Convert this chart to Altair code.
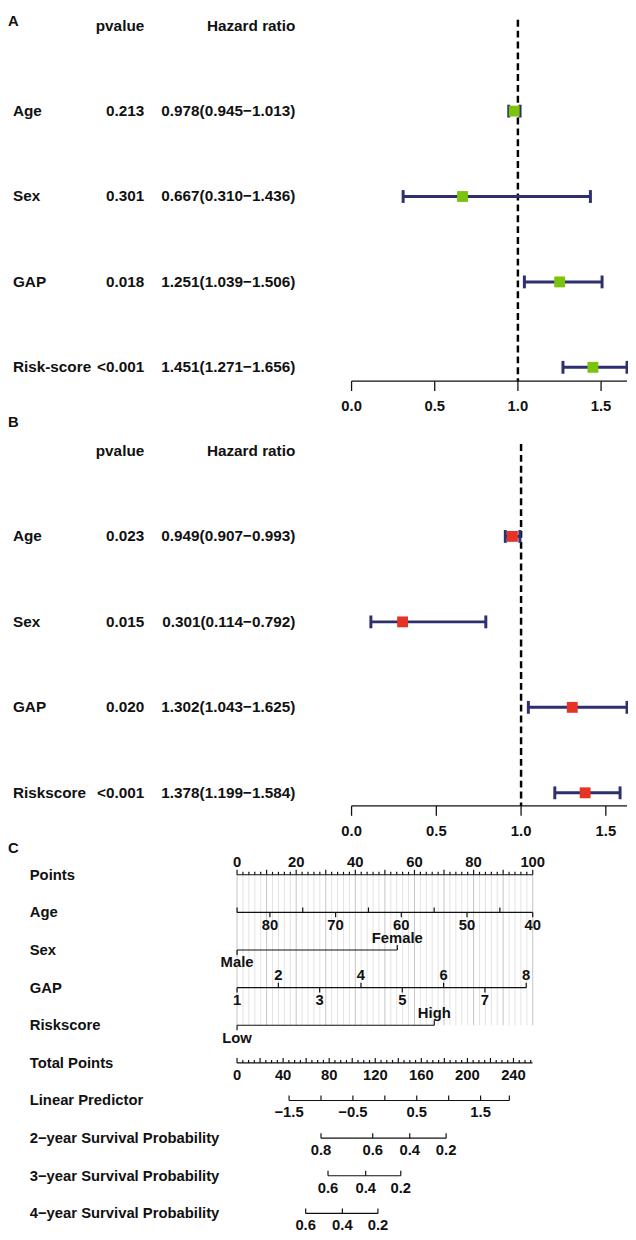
import altair as alt
import pandas as pd

FONT = "Liberation Sans"
NAVY = "#2E2F6E"
GREEN = "#7CC30E"
RED = "#E63323"
INK = "#111111"
W, H = 628, 1232

# ---------------- data: forest plot A ----------------
a_vars = ["Age", "Sex", "GAP", "Risk-score"]
a_pval = ["0.213", "0.301", "0.018", "<0.001"]
a_hr = [0.978, 0.667, 1.251, 1.451]
a_low = [0.945, 0.310, 1.039, 1.271]
a_high = [1.013, 1.436, 1.506, 1.656]

# ---------------- data: forest plot B ----------------
b_vars = ["Age", "Sex", "GAP", "Riskscore"]
b_pval = ["0.023", "0.015", "0.020", "<0.001"]
b_hr = [0.949, 0.301, 1.302, 1.378]
b_low = [0.907, 0.114, 1.043, 1.199]
b_high = [0.993, 0.792, 1.625, 1.584]

forest_ticks = [0.0, 0.5, 1.0, 1.5]

# ---------------- data: nomogram C ----------------
nomo_rows = ["Points", "Age", "Sex", "GAP", "Riskscore", "Total Points",
             "Linear Predictor", "2\u2212year Survival Probability",
             "3\u2212year Survival Probability", "4\u2212year Survival Probability"]
points_labels = [0, 20, 40, 60, 80, 100]
age_range = [85, 40]
age_labels = [80, 70, 60, 50, 40]
age_unlabeled = [85, 75, 65, 55, 45]
sex_levels = ["Male", "Female"]
sex_points = [0, 54.2]
gap_max_points = 97.8
gap_above = [2, 4, 6, 8]
gap_below = [1, 3, 5, 7]
risk_levels = ["Low", "High"]
risk_points = [0, 66.7]
total_labels = [0, 40, 80, 120, 160, 200, 240]
total_max = 256.5
lp_range = [-1.5, 1.95]
lp_labels = [-1.5, -0.5, 0.5, 1.5]
surv2_labels = ["0.8", "0.6", "0.4", "0.2"]
surv2_lp = [-1.0, -0.19, 0.39, 0.96]
surv3_labels = ["0.6", "0.4", "0.2"]
surv3_lp = [-0.89, -0.30, 0.25]
surv4_labels = ["0.6", "0.4", "0.2"]
surv4_lp = [-1.24, -0.665, -0.108]


def lin(domain, rng):
    return alt.Scale(domain=domain, range=rng, nice=False, zero=False)


def tstyle(size=15.5, align="left", dy=0):
    return dict(font=FONT, fontWeight="bold", fontSize=size, baseline="middle",
                align=align, dy=dy, color=INK)


def forest(names, pvals, hr, lo, hi, color, rows_rng, axis_y, dash_top, letter, letter_y):
    xs = lin([0, max(hi)], [348, 627])
    ys = lin([0, 4], rows_rng)
    Y = alt.Y("row:Q", scale=ys, axis=None)
    table = pd.DataFrame({
        "row": [0, 1, 2, 3, 4],
        "name": [""] + names,
        "p": ["pvalue"] + pvals,
        "hrtxt": ["Hazard ratio"] + [f"{h:.3f}({l:.3f}\u2212{u:.3f})" for h, l, u in zip(hr, lo, hi)],
    })
    est = pd.DataFrame({"row": [1, 2, 3, 4], "hr": hr, "lo": lo, "hi": hi})
    caps = pd.DataFrame({"row": [1, 2, 3, 4] * 2, "v": lo + hi})
    L = []
    L.append(alt.Chart(table).mark_text(**tstyle()).encode(x=alt.value(5), y=Y, text="name:N"))
    L.append(alt.Chart(table).mark_text(**tstyle(align="right")).encode(x=alt.value(138), y=Y, text="p:N"))
    L.append(alt.Chart(table).mark_text(**tstyle(align="right")).encode(x=alt.value(291), y=Y, text="hrtxt:N"))
    ref = pd.DataFrame({"v": [1.0]})
    L.append(alt.Chart(ref).mark_rule(color="black", strokeWidth=2.5, strokeDash=[7, 4]).encode(
        x=alt.X("v:Q", scale=xs, axis=None), y=alt.value(dash_top), y2=alt.value(axis_y)))
    L.append(alt.Chart(est).mark_rule(color=NAVY, strokeWidth=3).encode(
        x=alt.X("lo:Q", scale=xs, axis=None), x2="hi", y=Y))
    L.append(alt.Chart(caps).mark_tick(orient="vertical", color=NAVY, size=13, thickness=3, opacity=1).encode(
        x=alt.X("v:Q", scale=xs, axis=None), y=Y))
    L.append(alt.Chart(est).mark_square(size=121, color=color, opacity=1).encode(
        x=alt.X("hr:Q", scale=xs, axis=None), y=Y))
    dom = pd.DataFrame({"a": [0.0], "b": [max(hi)]})
    L.append(alt.Chart(dom).mark_rule(color=INK, strokeWidth=1.3).encode(
        x=alt.X("a:Q", scale=xs, axis=None), x2="b", y=alt.value(axis_y)))
    tk = pd.DataFrame({"t": forest_ticks, "lab": [f"{t:.1f}" for t in forest_ticks]})
    L.append(alt.Chart(tk).mark_rule(color=INK, strokeWidth=1.3).encode(
        x=alt.X("t:Q", scale=xs, axis=None), y=alt.value(axis_y), y2=alt.value(axis_y + 10)))
    L.append(alt.Chart(tk).mark_text(**tstyle(15, "center")).encode(
        x=alt.X("t:Q", scale=xs, axis=None), y=alt.value(axis_y + 25), text="lab:N"))
    L.append(alt.Chart(pd.DataFrame({"l": [letter]})).mark_text(**tstyle(15)).encode(
        x=alt.value(0), y=alt.value(letter_y), text="l:N"))
    return L


layers = []
layers += forest(a_vars, a_pval, a_hr, a_low, a_high, GREEN, [10, 356], 370, 4, "A", 5)
layers += forest(b_vars, b_pval, b_hr, b_low, b_high, RED, [440.7, 787], 800.3, 433.7, "B", 411)

# ---------------- nomogram ----------------
ny = lin([0, 9], [870, 1213])
NY = alt.Y("row:Q", scale=ny, axis=None)
PX0, PX1 = 232, 531.5


def pxp(p):
    return PX0 + (PX1 - PX0) * p / 100


pts_s = lin([0, 100], [PX0, PX1])
age_s = lin(age_range, [PX0, PX1])
gap_s = lin([1, 8], [PX0, pxp(gap_max_points)])
tot_s = lin([0, 240], [PX0, 512])
lp_s = lin([-1.5, 1.5], [284.7, 478.7])


def hline(row, a, b, xs):
    df = pd.DataFrame({"row": [row], "a": [a], "b": [b]})
    return alt.Chart(df).mark_rule(color=INK, strokeWidth=1.2).encode(
        x=alt.X("a:Q", scale=xs, axis=None), x2="b", y=NY)


def ticks(row, vals, length, xs, width=1.2):
    df = pd.DataFrame({"row": [row] * len(vals), "v": vals})
    return alt.Chart(df).mark_rule(color=INK, strokeWidth=width, y2Offset=length).encode(
        x=alt.X("v:Q", scale=xs, axis=None), y=NY, y2="row")


def labels(row, vals, texts, dy, xs):
    df = pd.DataFrame({"row": [row] * len(vals), "v": vals, "t": texts})
    return alt.Chart(df).mark_text(**tstyle(15, "center", dy)).encode(
        x=alt.X("v:Q", scale=xs, axis=None), y=NY, text="t:N")


# grid lines
grid_major = list(range(0, 101, 10))
grid_minor = [v for v in range(0, 101, 2) if v % 10 != 0]
gdf_major = pd.DataFrame({"v": grid_major, "r0": 0, "r4": 4})
gdf_minor = pd.DataFrame({"v": grid_minor, "r0": 0, "r4": 4})
layers.append(alt.Chart(gdf_minor).mark_rule(color="#E3E3E3", strokeWidth=1).encode(
    x=alt.X("v:Q", scale=pts_s, axis=None), y=alt.Y("r0:Q", scale=ny, axis=None), y2="r4"))
layers.append(alt.Chart(gdf_major).mark_rule(color="#C4C4C4", strokeWidth=1).encode(
    x=alt.X("v:Q", scale=pts_s, axis=None), y=alt.Y("r0:Q", scale=ny, axis=None), y2="r4"))

# row labels
rl = pd.DataFrame({"row": list(range(10)), "name": nomo_rows})
layers.append(alt.Chart(rl).mark_text(**tstyle(15)).encode(x=alt.value(22), y=NY, text="name:N"))
layers.append(alt.Chart(pd.DataFrame({"l": ["C"]})).mark_text(**tstyle(15)).encode(
    x=alt.value(0), y=alt.value(842.7), text="l:N"))

# Points
layers.append(hline(0, 0, 100, pts_s))
layers.append(ticks(0, [v for v in range(0, 101, 2) if v % 10 != 0], -3, pts_s))
layers.append(ticks(0, list(range(0, 101, 10)), -5, pts_s))
layers.append(labels(0, points_labels, [str(v) for v in points_labels], -13, pts_s))

# Age
layers.append(hline(1, age_range[0], age_range[1], age_s))
layers.append(ticks(1, age_unlabeled, -5, age_s))
layers.append(ticks(1, age_labels, 5, age_s))
layers.append(labels(1, age_labels, [str(v) for v in age_labels], 12.5, age_s))

# Sex
layers.append(hline(2, sex_points[0], sex_points[1], pts_s))
layers.append(ticks(2, [sex_points[0]], 5, pts_s))
layers.append(ticks(2, [sex_points[1]], -5, pts_s))
layers.append(labels(2, [sex_points[1]], [sex_levels[1]], -12.5, pts_s))
layers.append(labels(2, [sex_points[0]], [sex_levels[0]], 12, pts_s))

# GAP
layers.append(hline(3, 1, 8, gap_s))
layers.append(ticks(3, gap_above, -5, gap_s))
layers.append(ticks(3, gap_below, 5, gap_s))
layers.append(labels(3, gap_above, [str(v) for v in gap_above], -12.5, gap_s))
layers.append(labels(3, gap_below, [str(v) for v in gap_below], 12.5, gap_s))

# Riskscore
layers.append(hline(4, risk_points[0], risk_points[1], pts_s))
layers.append(ticks(4, [risk_points[0]], 5, pts_s))
layers.append(ticks(4, [risk_points[1]], -5, pts_s))
layers.append(labels(4, [risk_points[1]], [risk_levels[1]], -12.5, pts_s))
layers.append(labels(4, [risk_points[0]], [risk_levels[0]], 12.5, pts_s))

# Total points
layers.append(hline(5, 0, total_max, tot_s))
layers.append(ticks(5, [v for v in range(0, 256, 5) if v % 20 != 0], -3, tot_s))
layers.append(ticks(5, list(range(0, 256, 20)), -5, tot_s))
layers.append(labels(5, total_labels, [str(v) for v in total_labels], 12, tot_s))

# Linear predictor
lp_ticks = [-1.5 + 0.5 * i for i in range(7)]
layers.append(hline(6, lp_range[0], lp_range[1], lp_s))
layers.append(ticks(6, lp_ticks + [lp_range[1]], -5, lp_s))
layers.append(labels(6, lp_labels, ["\u22121.5", "\u22120.5", "0.5", "1.5"], 12, lp_s))

# Survival probabilities
for row, labs, pos in [(7, surv2_labels, surv2_lp), (8, surv3_labels, surv3_lp), (9, surv4_labels, surv4_lp)]:
    layers.append(hline(row, pos[0], pos[-1], lp_s))
    layers.append(ticks(row, pos, -5, lp_s))
    layers.append(labels(row, pos, labs, 12, lp_s))

chart = alt.layer(*layers).resolve_scale(x="independent", y="independent").properties(
    width=W, height=H, autosize=alt.AutoSizeParams(type="none"), padding=0
).configure_view(stroke=None)

chart.save("out.html", embed_options={"renderer": "svg", "actions": False})
